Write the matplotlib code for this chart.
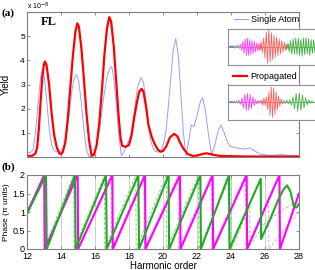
import numpy as np
import matplotlib
matplotlib.use("Agg")
import matplotlib.pyplot as plt

# ---------------- data ----------------
# Panel (a): yield (x 1e-8) vs harmonic order
red_x = [12.0, 12.3, 12.5, 12.6, 12.7, 12.8, 12.9, 13.0, 13.06, 13.15, 13.3, 13.45, 13.6, 13.75, 13.9, 14.0,
         14.1, 14.25, 14.4, 14.55, 14.7, 14.85, 14.96, 15.05, 15.2, 15.35, 15.5, 15.65, 15.8, 15.95,
         16.1, 16.25, 16.4, 16.55, 16.7, 16.84, 16.95, 17.1, 17.27, 17.4, 17.5, 17.6, 17.8, 18.0,
         18.15, 18.3, 18.45, 18.6, 18.74, 18.85, 19.0, 19.15, 19.33, 19.5, 19.7, 19.85, 20.0, 20.2,
         20.4, 20.65, 20.85, 21.0, 21.2, 21.45, 21.78, 22.1, 22.4, 22.6, 22.9, 23.3, 24.0, 25.0, 26.0, 28.0]
red_y = [0.05, 0.05, 0.15, 0.4, 1.2, 2.3, 3.3, 3.85, 3.95, 3.8, 3.0, 1.8, 0.9, 0.4, 0.15, 0.12,
         0.2, 0.6, 1.6, 2.9, 4.2, 5.2, 5.53, 5.4, 4.5, 3.2, 1.8, 0.7, 0.05, 0.1,
         0.5, 1.4, 2.7, 4.2, 5.3, 5.79, 5.6, 4.6, 2.9, 1.6, 0.8, 0.46, 0.42, 0.5,
         0.9, 1.6, 2.2, 2.7, 2.82, 2.7, 2.1, 1.3, 0.85, 0.55, 0.3, 0.22, 0.25, 0.45,
         0.8, 0.96, 0.85, 0.6, 0.35, 0.12, 0.04, 0.08, 0.14, 0.15, 0.1, 0.05, 0.03, 0.02, 0.02, 0.02]

blue_x = [12.0, 12.2, 12.35, 12.5, 12.65, 12.8, 12.9, 13.0, 13.15, 13.3, 13.45, 13.6, 13.8, 14.0, 14.2,
          14.35, 14.5, 14.65, 14.8, 14.92, 15.05, 15.2, 15.35, 15.5, 15.65, 15.8, 15.95, 16.1, 16.3,
          16.5, 16.7, 16.85, 16.98, 17.1, 17.25, 17.4, 17.55, 17.7, 17.9, 18.1, 18.3, 18.5, 18.7,
          18.85, 19.0, 19.15, 19.3, 19.5, 19.7, 19.9, 20.05, 20.2, 20.4, 20.6, 20.75, 20.9, 21.05,
          21.2, 21.35, 21.5, 21.66, 21.82, 22.0, 22.2, 22.33, 22.5, 22.7, 22.86, 23.05, 23.25, 23.41,
          23.6, 23.8, 23.94, 24.2, 24.5, 24.8, 25.08, 25.4, 25.7, 26.2, 26.6, 27.0, 27.4, 28.0]
blue_y = [0.2, 0.18, 0.3, 1.0, 2.2, 3.3, 3.62, 3.4, 2.4, 1.2, 0.5, 0.25, 0.22, 0.25, 0.4,
          1.0, 1.9, 2.8, 3.3, 3.4, 3.1, 2.2, 1.1, 0.3, 0.02, 0.05, 0.2, 0.5, 1.3,
          2.4, 3.3, 3.65, 3.74, 3.3, 2.2, 0.9, 0.05, 0.2, 0.55, 0.85, 1.8, 2.9, 3.28,
          3.1, 2.3, 1.3, 0.6, 0.25, 0.2, 0.25, 0.6, 1.2, 2.8, 4.4, 4.9, 4.2, 2.6,
          1.0, 0.05, 0.6, 1.33, 1.25, 1.7, 2.3, 2.45, 1.9, 0.8, 0.1, 0.5, 1.1, 1.33,
          1.0, 0.6, 0.45, 0.4, 0.35, 0.33, 0.38, 0.25, 0.12, 0.07, 0.08, 0.1, 0.06, 0.04]

# Panel (b): phase (pi units)
green_x = [12.0, 13.12, 13.16, 14.82, 14.86, 16.65, 16.69, 18.55, 18.59, 20.33, 20.36, 22.2, 22.23,
           23.88, 23.91, 25.75, 25.77, 26.3, 26.8, 27.1, 27.3, 27.5, 27.7, 27.85, 28.0]
green_y = [0.96, 2.0, 0.0, 2.0, 0.0, 2.0, 0.0, 2.0, 0.0, 2.0, 0.0, 2.0, 0.0,
           2.0, 0.0, 1.9, 0.27, 0.8, 1.35, 1.62, 1.72, 1.55, 1.15, 1.12, 1.22]

magenta_x = [12.0, 13.02, 13.05, 14.98, 15.01, 17.02, 17.05, 18.94, 18.97, 21.0, 21.03, 22.92, 22.95,
             24.92, 24.95, 26.85, 26.88, 28.0]
magenta_y = [0.98, 2.0, 0.0, 2.0, 0.0, 2.0, 0.0, 2.0, 0.0, 2.0, 0.0, 2.0, 0.0,
             2.0, 0.0, 2.0, 0.0, 1.5]

dgreen_x = [12.0, 12.97, 12.99, 14.75, 14.77, 16.55, 16.57, 18.4, 18.42, 20.2, 20.22, 22.08, 22.1,
            24.0, 24.02, 25.1, 25.12, 26.0, 27.0, 28.0]
dgreen_y = [0.9, 2.0, 0.0, 2.0, 0.0, 2.0, 0.0, 2.0, 0.0, 2.0, 0.0, 2.0, 0.0,
            2.0, 0.0, 1.15, 0.1, 0.7, 1.05, 1.3]

dpink_x = [12.0, 13.0, 13.02, 14.95, 14.97, 16.95, 16.97, 18.88, 18.9, 20.9, 20.92, 22.85, 22.87,
           24.85, 24.87, 26.2, 26.22, 28.0]
dpink_y = [0.95, 2.0, 0.0, 2.0, 0.0, 2.0, 0.0, 2.0, 0.0, 2.0, 0.0, 2.0, 0.0,
           2.0, 0.0, 1.35, 0.0, 1.0]

# Inset waveforms: signed half-cycle amplitudes, (start, end) in inset time units
ins1_blue = ([0.0, 0.04, -0.05, 0.06, -0.04, 0.05, -0.03], (0, 7))
ins1_gray = ([0.05, -0.08, 0.1, -0.06, 0.09, -0.1, 0.08], (7, 13))
ins1_mag = ([0.12, -0.2, 0.3, -0.38, 0.45, -0.5, 0.48, -0.5, 0.42, -0.45, 0.35, -0.38, 0.3, -0.28,
             0.22, -0.25, 0.18, -0.15, 0.12, -0.1], (13, 35))
ins1_red = ([0.1, -0.2, 0.3, -0.35, 0.5, -0.65, 0.85, -0.95, 0.98, -0.9, 0.8, -0.75, 0.65, -0.6,
             0.55, -0.5, 0.45, -0.4, 0.35, -0.3, 0.25, -0.2, 0.15, -0.1, 0.08], (31, 62))
ins1_green = ([0.08, -0.15, 0.2, -0.3, 0.35, -0.42, 0.45, -0.4, 0.5, -0.45, 0.48, -0.5, 0.42,
               -0.55, 0.5, -0.45, 0.52, -0.4, 0.45, -0.5, 0.42, -0.38, 0.4, -0.35, 0.3, -0.3], (58, 90))

ins2_blue = ([0.0, 0.04, -0.05, 0.05, -0.04, 0.04], (0, 7))
ins2_gray = ([0.04, -0.07, 0.08, -0.06, 0.07, -0.08], (7, 12))
ins2_mag = ([0.08, -0.15, 0.25, -0.35, 0.45, -0.5, 0.52, -0.5, 0.45, -0.38, 0.3, -0.22, 0.15,
             -0.1, 0.08, -0.06, 0.08, -0.1, 0.1], (12, 36))
ins2_red = ([0.1, -0.2, 0.25, -0.2, 0.3, -0.45, 0.6, -0.8, 0.9, -0.92, 0.85, -0.75, 0.6, -0.45,
             0.35, -0.25, 0.18, -0.12, 0.08], (34, 56))
ins2_green = ([0.06, -0.08, 0.1, -0.1, 0.12, -0.2, 0.3, -0.42, 0.5, -0.55, 0.55, -0.5, 0.42,
               -0.35, 0.25, -0.18, 0.12, -0.08, 0.06, -0.05], (56, 86))

x_ticks = [12, 14, 16, 18, 20, 22, 24, 26, 28]
yield_ticks = [1, 2, 3, 4, 5]
phase_ticks = [0, 0.5, 1, 1.5, 2]

# ---------------- figure ----------------
plt.rcParams['font.family'] = ['Liberation Sans', 'DejaVu Sans']
W, H = 315, 270
fig = plt.figure(figsize=(W / 100, H / 100), dpi=100)

spine_c = '#7f7f7f'

def style(ax):
    for s in ax.spines.values():
        s.set_color(spine_c)
        s.set_linewidth(0.8)
    ax.tick_params(direction='in', length=2.5, width=0.6, color=spine_c, top=True, right=True,
                   labelsize=6.5, pad=1.5)

# Panel (a)
axa = fig.add_axes([27 / W, 1 - 157 / H, 272 / W, 145 / H])
l_blue, = axa.plot(blue_x, blue_y, color='#9b9bff', lw=0.7, label='Single Atom')
l_red, = axa.plot(red_x, red_y, color='#ff0000', lw=1.6, label='Propagated')
axa.set_xlim(12, 28)
axa.set_ylim(0, 6)
axa.set_xticks(x_ticks)
axa.set_xticklabels([])
axa.set_yticks(yield_ticks)
style(axa)
axa.tick_params(labelsize=6)
axa.set_ylabel('Yield', fontsize=7)
axa.yaxis.set_label_coords(-0.06, 0.5)
axa.text(0.0, 1.003, r'x 10$^{-8}$', transform=axa.transAxes, fontsize=5, ha='left', va='bottom')
axa.text(0.05, 0.97, 'FL', transform=axa.transAxes, fontsize=9, fontweight='bold',
         family='Liberation Serif', ha='left', va='top')
fig.text(2 / W, 1 - 13 / H, '(a)', fontsize=8, fontweight='bold', family='Liberation Serif',
         ha='left', va='center')

leg1 = axa.legend(handles=[l_blue], loc='upper right', bbox_to_anchor=(1.005, 0.985), frameon=False,
                  fontsize=6.5, handlelength=1.6, handletextpad=0.3, borderpad=0.1, borderaxespad=0)
axa.add_artist(leg1)
axa.legend(handles=[l_red], loc='upper right', bbox_to_anchor=(0.995, 0.594), frameon=False,
           fontsize=6.5, handlelength=1.6, handletextpad=0.3, borderpad=0.1, borderaxespad=0)

# Panel (b)
axb = fig.add_axes([27 / W, 1 - 249 / H, 272 / W, 74 / H])
axb.set_xlim(12, 28)
axb.set_ylim(0, 2)
axb.set_xticks(x_ticks)
axb.set_yticks(phase_ticks)
axb.set_yticklabels(['0', '0.5', '1', '1.5', '2'])
axb.grid(axis='x', color='#c8c8c8', lw=0.6)
axb.plot(dpink_x, dpink_y, color='#f0a0f0', lw=0.7, ls=(0, (3, 2)))
axb.plot(dgreen_x, dgreen_y, color='#90cc90', lw=0.7, ls=(0, (3, 2)))
axb.plot(magenta_x, magenta_y, color='#ff00ff', lw=1.5)
axb.plot(green_x, green_y, color='#22a822', lw=1.5)
style(axb)
axb.tick_params(labelsize=6.5)
axb.tick_params(axis='x', pad=2.5)
axb.set_xlabel('Harmonic order', fontsize=7, labelpad=-0.5)
axb.set_ylabel('Phase (π units)', fontsize=6)
axb.yaxis.set_label_coords(-0.064, 0.5)
fig.text(2 / W, 1 - 167 / H, '(b)', fontsize=8, fontweight='bold', family='Liberation Serif',
         ha='left', va='center')

# Insets
def inset(rect, parts):
    ax = fig.add_axes(rect)
    ax.set_facecolor('white')
    ax.axhline(0, color='#a8b070', lw=0.8, zorder=1)
    colors = ['#3a6fc0', '#b090b0', '#ff40ff', '#ff6060', '#40b040']
    for (vals, (a, b)), c in zip(parts, colors):
        t = np.linspace(a, b, len(vals))
        ax.plot(t, vals, color=c, lw=0.6, zorder=2)
    ax.set_xlim(0, 90)
    ax.set_ylim(-1.05, 1.05)
    ax.set_xticks([])
    ax.set_yticks([])
    for s in ax.spines.values():
        s.set_color('#909090')
        s.set_linewidth(0.8)
    return ax

inset([227.5 / W, 1 - 65 / H, 90 / W, 36.5 / H],
      [ins1_blue, ins1_gray, ins1_mag, ins1_red, ins1_green])
inset([227.5 / W, 1 - 119.5 / H, 90 / W, 35 / H],
      [ins2_blue, ins2_gray, ins2_mag, ins2_red, ins2_green])

fig.savefig('out.png', dpi=100)
